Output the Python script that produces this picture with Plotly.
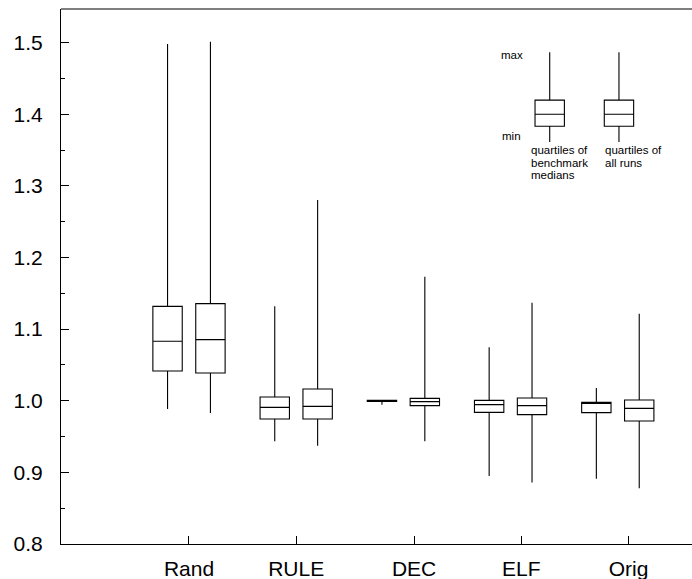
import plotly.graph_objects as go

# Pair groups along the x axis
categories = ["Rand", "RULE", "DEC", "ELF", "Orig"]
group_pos = [1, 2, 3, 4, 5]
tick_pos = [1.0, 2.0, 3.1, 4.1, 5.1]

# Left box of each pair: quartiles of benchmark medians
med_min = [0.9886, 0.9433, 0.9946, 0.8950, 0.8912]
med_q1 = [1.0416, 0.9746, 0.9990, 0.9838, 0.9834]
med_median = [1.0830, 0.9908, 0.9998, 0.9946, 0.9964]
med_q3 = [1.1318, 1.0053, 1.0006, 1.0006, 0.9978]
med_max = [1.4983, 1.1318, 1.0006, 1.0746, 1.0179]

# Right box of each pair: quartiles of all runs
run_min = [0.9830, 0.9373, 0.9433, 0.8860, 0.8780]
run_q1 = [1.0388, 0.9746, 0.9932, 0.9806, 0.9718]
run_median = [1.0853, 0.9922, 0.9988, 0.9932, 0.9894]
run_q3 = [1.1356, 1.0165, 1.0034, 1.0039, 1.0011]
run_max = [1.5013, 1.2804, 1.1733, 1.1370, 1.1216]

# Key boxes drawn inside the plot
key_pos = [4.365, 5.011]
key_min = [1.3612, 1.3612]
key_q1 = [1.3832, 1.3832]
key_median = [1.4000, 1.4000]
key_q3 = [1.4198, 1.4198]
key_max = [1.4866, 1.4866]

# Key captions, one entry per text line
key_left_lines = ["quartiles of", "benchmark", "medians"]
key_right_lines = ["quartiles of", "all runs"]
line_y = [1.3497, 1.3321, 1.3158]

offset = 0.2
box_w = 0.274
font = "Liberation Sans, Arial, Helvetica, sans-serif"

box_style = dict(
    fillcolor="white",
    line=dict(color="black", width=1.1),
    whiskerwidth=0,
    width=box_w,
    boxpoints=False,
    showlegend=False,
    hoverinfo="skip",
)

fig = go.Figure()
fig.add_trace(go.Box(
    x=[p - offset for p in group_pos],
    q1=med_q1, median=med_median, q3=med_q3,
    lowerfence=med_min, upperfence=med_max,
    **box_style,
))
fig.add_trace(go.Box(
    x=[p + offset for p in group_pos],
    q1=run_q1, median=run_median, q3=run_q3,
    lowerfence=run_min, upperfence=run_max,
    **box_style,
))
fig.add_trace(go.Box(
    x=key_pos,
    q1=key_q1, median=key_median, q3=key_q3,
    lowerfence=key_min, upperfence=key_max,
    **box_style,
))

small = dict(family=font, size=11.5, color="black")
fig.add_annotation(x=4.134, y=1.4830, text="max", showarrow=False,
                   xanchor="right", yanchor="middle", font=small)
fig.add_annotation(x=4.116, y=1.3700, text="min", showarrow=False,
                   xanchor="right", yanchor="middle", font=small)
for txt, yy in zip(key_left_lines, line_y):
    fig.add_annotation(x=4.175, y=yy, text=txt, showarrow=False,
                       xanchor="left", yanchor="middle", font=small)
for txt, yy in zip(key_right_lines, line_y):
    fig.add_annotation(x=4.858, y=yy, text=txt, showarrow=False,
                       xanchor="left", yanchor="middle", font=small)

# Top frame line (the frame runs on past the right edge of the page)
fig.add_shape(type="line", xref="paper", yref="paper", x0=0, x1=1, y0=1, y1=1,
              line=dict(color="black", width=1.2))

fig.update_layout(
    width=720, height=579,
    margin=dict(l=61, r=0, t=9, b=35),
    paper_bgcolor="white", plot_bgcolor="white",
    font=dict(family=font, size=21, color="black"),
    boxmode="overlay",
)
fig.update_xaxes(
    range=[-0.194, 5.9535],
    tickmode="array", tickvals=tick_pos, ticktext=categories,
    ticks="inside", ticklen=8, tickcolor="black", tickwidth=1,
    showline=True, linecolor="black", linewidth=1,
    showgrid=False, zeroline=False,
    ticklabelstandoff=6,
)
fig.update_yaxes(
    range=[0.8, 1.547],
    tickmode="linear", tick0=0.8, dtick=0.1, tickformat=".1f",
    ticks="inside", ticklen=8, tickcolor="black", tickwidth=1,
    minor=dict(dtick=0.05, tick0=0.8, ticks="inside", ticklen=4,
               tickcolor="black", tickwidth=1, showgrid=False),
    showline=True, linecolor="black", linewidth=1,
    showgrid=False, zeroline=False,
    ticklabelstandoff=13,
)

fig.write_html(
    "out.html",
    post_script="document.documentElement.style.overflow='hidden';"
                "document.body.style.overflow='hidden';"
                "document.body.style.margin='0';",
)
